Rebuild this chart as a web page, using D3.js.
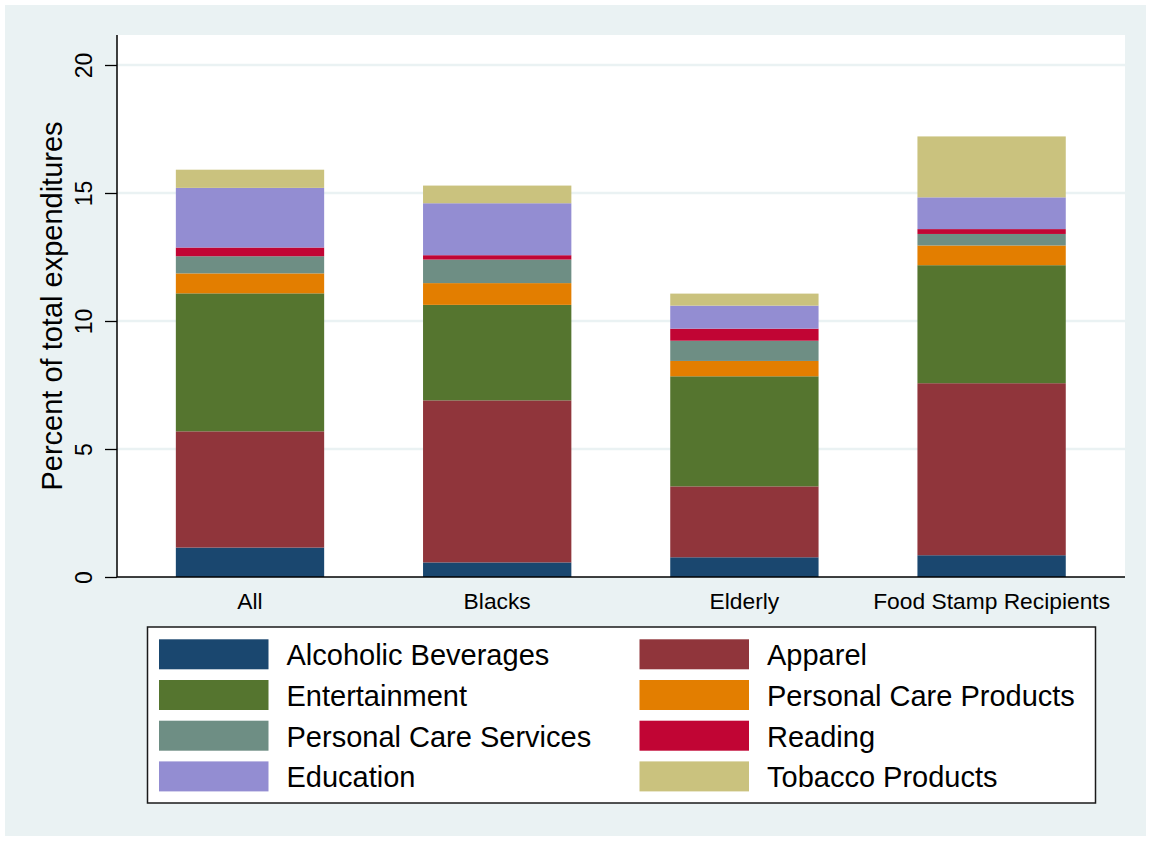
<!DOCTYPE html>
<html>
<head>
<meta charset="utf-8">
<script src="https://cdn.jsdelivr.net/npm/d3@7"></script>
<style>
  body { margin: 0; background: #ffffff; }
  text { font-family: "Liberation Sans", Arial, sans-serif; }
</style>
</head>
<body>
<div id="viz"></div>
<script>
// Chart data (percent of total expenditures)
var groups = ["All", "Blacks", "Elderly", "Food Stamp Recipients"]
var series = ["Alcoholic Beverages", "Apparel", "Entertainment", "Personal Care Products",
              "Personal Care Services", "Reading", "Education", "Tobacco Products"]
var alcohol   = [1.15, 0.57, 0.77, 0.85]
var apparel   = [4.54, 6.33, 2.77, 6.72]
var entertain = [5.39, 3.73, 4.30, 4.61]
var careProd  = [0.78, 0.85, 0.60, 0.77]
var careServ  = [0.67, 0.92, 0.79, 0.45]
var reading   = [0.34, 0.17, 0.47, 0.19]
var education = [2.33, 2.03, 0.90, 1.24]
var tobacco   = [0.71, 0.69, 0.47, 2.38]
var yTicks = [0, 5, 10, 15, 20]

var colors = ["#1a476f", "#90353b", "#55752f", "#e37e00", "#6e8e84", "#c10534", "#938dd2", "#cac27e"]

var W = 1151, H = 841
var plot = {left: 117, right: 1125, top: 35, bottom: 577}

var svg = d3.select("#viz")
  .append("svg")
    .attr("width", W)
    .attr("height", H)

// outer background + plot region
svg.append("rect").attr("x", 5).attr("y", 5).attr("width", W - 10).attr("height", H - 10)
  .attr("fill", "#eaf2f3")
svg.append("rect").attr("x", plot.left).attr("y", plot.top)
  .attr("width", plot.right - plot.left).attr("height", plot.bottom - plot.top)
  .attr("fill", "#ffffff")

// build rows for the stack
var cols = [alcohol, apparel, entertain, careProd, careServ, reading, education, tobacco]
var data = groups.map(function(g, i) {
  var row = {group: g}
  series.forEach(function(s, j) { row[s] = cols[j][i] })
  return row
})

var x = d3.scaleBand()
  .domain(groups)
  .range([126.4, 1115.2])
  .paddingInner(0.4)
  .paddingOuter(0.2)

var y = d3.scaleLinear()
  .domain([0, 20])
  .range([plot.bottom, plot.bottom - 512])

var color = d3.scaleOrdinal().domain(series).range(colors)

// gridlines
svg.append("g")
  .selectAll("line")
  .data(yTicks.slice(1))
  .enter().append("line")
    .attr("x1", plot.left).attr("x2", plot.right)
    .attr("y1", function(d) { return y(d) }).attr("y2", function(d) { return y(d) })
    .attr("stroke", "#eaf2f3").attr("stroke-width", 2.5)

var stacked = d3.stack().keys(series)(data)

svg.append("g")
  .selectAll("g")
  .data(stacked)
  .enter().append("g")
    .attr("fill", function(d) { return color(d.key) })
    .selectAll("rect")
    .data(function(d) { return d })
    .enter().append("rect")
      .attr("x", function(d) { return x(d.data.group) })
      .attr("y", function(d) { return y(d[1]) })
      .attr("height", function(d) { return y(d[0]) - y(d[1]) })
      .attr("width", x.bandwidth())

// y axis
var yAxis = svg.append("g")
  .attr("transform", "translate(" + plot.left + ",0)")
  .call(d3.axisLeft(y).tickValues(yTicks).tickSize(12).tickSizeOuter(0))
yAxis.select(".domain").attr("stroke", "#000").attr("stroke-width", 1.5)
  .attr("d", "M0," + plot.top + "V" + plot.bottom)
yAxis.selectAll(".tick line").attr("stroke", "#000").attr("stroke-width", 1.3)
yAxis.selectAll(".tick text").remove()
yAxis.selectAll(".tick").append("text")
  .attr("transform", "translate(-42,0) rotate(-90)")
  .attr("text-anchor", "middle")
  .attr("dy", "0.72em")
  .attr("fill", "#000")
  .style("font-size", "23px")
  .text(function(d) { return d })

// x axis
var xAxis = svg.append("g")
  .attr("transform", "translate(0," + plot.bottom + ")")
  .call(d3.axisBottom(x).tickSize(0).tickPadding(0))
xAxis.select(".domain").attr("stroke", "#000").attr("stroke-width", 1.5)
  .attr("d", "M" + plot.left + ",0H" + plot.right)
xAxis.selectAll(".tick text")
  .attr("dy", null)
  .attr("y", 32)
  .attr("fill", "#000")
  .style("font-size", "22.8px")

// axis title
svg.append("text")
  .attr("transform", "translate(62,306) rotate(-90)")
  .attr("text-anchor", "middle")
  .style("font-size", "29px")
  .text("Percent of total expenditures")

// legend
svg.append("rect").attr("x", 147.5).attr("y", 627).attr("width", 948).attr("height", 176)
  .attr("fill", "#ffffff").attr("stroke", "#1a1a1a").attr("stroke-width", 1.5)
var legend = svg.append("g")

series.forEach(function(s, i) {
  var col = i % 2, row = Math.floor(i / 2)
  var sx = col == 0 ? 159 : 639.5
  var sy = 639.3 + row * 40.7
  legend.append("rect").attr("x", sx).attr("y", sy).attr("width", 109.5).attr("height", 30)
    .attr("fill", color(s))
  legend.append("text").attr("x", sx + 127.5).attr("y", sy + 26)
    .style("font-size", "29px")
    .text(s)
})
</script>
</body>
</html>
